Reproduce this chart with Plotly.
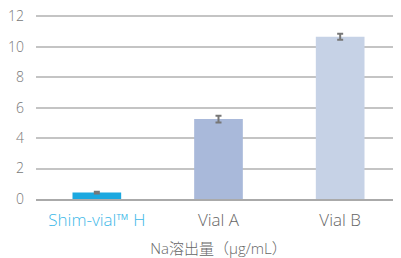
import plotly.graph_objects as go

categories = ["Shim-vial™ H", "Vial A", "Vial B"]
values = [0.42, 5.25, 10.65]
errors = [0.06, 0.22, 0.2]
bar_colors = ["#1ba8e0", "#a9b9da", "#c6d2e6"]
label_colors = ["#3cb8e8", "#666666", "#666666"]
y_ticks = [0, 2, 4, 6, 8, 10, 12]

ticktext = [f'<span style="color:{c}">{t}</span>' for t, c in zip(categories, label_colors)]

fig = go.Figure(go.Bar(
    x=categories, y=values,
    marker=dict(color=bar_colors, line=dict(width=0)),
    width=0.4,
    error_y=dict(type="data", array=errors, color="#777777", thickness=2, width=3),
))

# page body has an 8px default margin; figure sized to fit the 401x258 window
fig.update_layout(
    width=393, height=250,
    margin=dict(l=28, r=0, t=7, b=59),
    paper_bgcolor="white", plot_bgcolor="white",
    font=dict(family="Open Sans, Noto Sans CJK JP, sans-serif", color="#666666", weight=300),
    showlegend=False,
    xaxis=dict(
        tickmode="array", tickvals=categories, ticktext=ticktext,
        tickfont=dict(size=17, weight=300), showline=True, linecolor="#aaaaaa", linewidth=2,
        ticks="", showgrid=False, automargin=False, ticklabelstandoff=5,
        title=dict(text="Na溶出量（μg/mL）", font=dict(size=15, color="#666666", weight=300), standoff=13),
    ),
    yaxis=dict(
        range=[0, 12.08], tickvals=y_ticks, tickfont=dict(size=14, color="#777777", weight=300),
        showgrid=True, gridcolor="#c4c4c4", gridwidth=1.5, zeroline=False,
        ticks="", ticklabelstandoff=11, automargin=False, ticklabeloverflow="allow",
    ),
)

fig.write_html("out.html")
